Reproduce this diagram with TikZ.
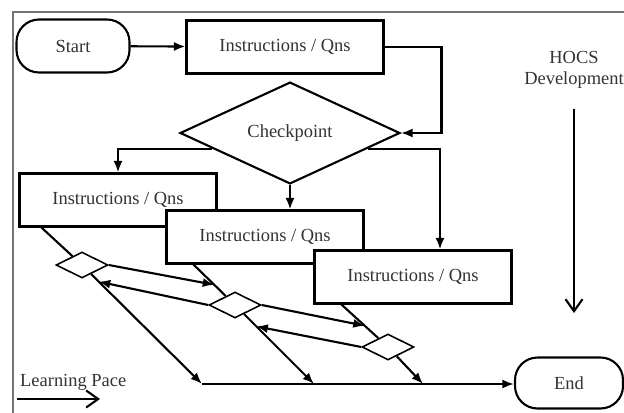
\documentclass[tikz,border=0pt]{standalone}
\usepackage{fontspec}
\setmainfont{Liberation Serif}
\usetikzlibrary{shapes.geometric, arrows.meta, calc}

\begin{document}
\begin{tikzpicture}[x = 0.02cm, y = -0.02cm,
    every node/.style = {font = \fontsize{10.5}{12}\selectfont, text = black!80},
    box/.style = {draw, line width = 1.2pt, fill = white, minimum width = 3.94cm, minimum height = 1.06cm, inner sep = 0pt},
    term/.style = {draw, line width = 1.2pt, fill = white, rounded corners = 0.45cm, minimum height = 1.06cm, inner sep = 0pt},
    check/.style = {draw, line width = 1.2pt, fill = white, shape = diamond, minimum width = 4.4cm, minimum height = 1.56cm, inner sep = 0pt},
    gate/.style = {draw, line width = 0.9pt, fill = white, shape = diamond, minimum width = 1.04cm, minimum height = 0.52cm, inner sep = 0pt},
    link/.style = {line width = 1.2pt},
    flow/.style = {line width = 1.2pt, -{Latex[length = 2.3mm, width = 1.8mm]}},
    pace/.style = {line width = 1.2pt, -{Straight Barb[length = 2.4mm, width = 3.4mm]}}]
        \useasboundingbox (0, 0) rectangle (624, 412);
        \clip (0, 0) rectangle (624, 412);
        \fill[white] (0, 0) rectangle (624, 412);
        \draw[black!55, line width = 1.5pt] (13, 12) rectangle (640, 430);

        \node[term, minimum width = 2.26cm] (start) at (73, 46) {Start};
        \node[box] (b1) at (285, 47) {Instructions / Qns};
        \node[check] (chk) at (290, 133) {Checkpoint};
        \node[box] (b2) at (118, 200) {Instructions / Qns};
        \node[box] (b3) at (265, 237) {Instructions / Qns};
        \node[box] (b4) at (413, 277) {Instructions / Qns};
        \node[term, minimum width = 2.16cm, minimum height = 1.02cm] (end) at (569, 383) {End};

        \draw[flow] (start) -- (b1);
        \draw[flow] (b1.east) -- ++(57, 0) |- (chk.east);
        \draw[flow] ($(chk.west)!0.3!(chk.south)$) -| (b2.north);
        \draw[flow] (chk.south) -- (chk.south |- b3.north);
        \draw[flow] ($(chk.east)!0.3!(chk.south)$) -| ($(b4.north)+(27, 0)$);

        \foreach \i/\b/\o/\x/\y/\e in {1/b2/23/82/265/202, 2/b3/28/235/305/314, 3/b4/28/388/347/423} {
          \node[gate] (d\i) at (\x, \y) {};
          \coordinate (s\i) at ($(\b.south west)+(\o, 0)$);
          \coordinate (e\i) at (\e, 384);
        }
        \draw[flow] (e1) -- (e1 -| end.west);
        \foreach \i in {1, 2, 3} {
          \draw[link] (s\i) -- (d\i);
          \draw[flow] (d\i) -- (e\i);
        }
        \foreach \i/\j/\t in {1/2/0.14, 2/3/0.27} {
          \coordinate (f\i) at ($(s\j)!0.5!(d\j)$);
          \coordinate (r\i) at ($(d\i)!\t!(e\i)$);
          \draw[flow] (d\i.east) -- (f\i);
          \draw[flow] (d\j.west) -- (r\i);
        }

        \node[align = center] (hocs) at (574, 70) {HOCS\\Development};
        \coordinate (hocsend) at (574, 313);
        \draw[pace] ($(hocs.south)+(0, 14)$) -- (hocsend);

        \node[anchor = west] (learn) at (14, 382) {Learning Pace};
        \coordinate (p0) at (17, 399);
        \coordinate (p1) at (100, 399);
        \draw[pace] (p0) -- (p1);
      \end{tikzpicture}
\end{document}
